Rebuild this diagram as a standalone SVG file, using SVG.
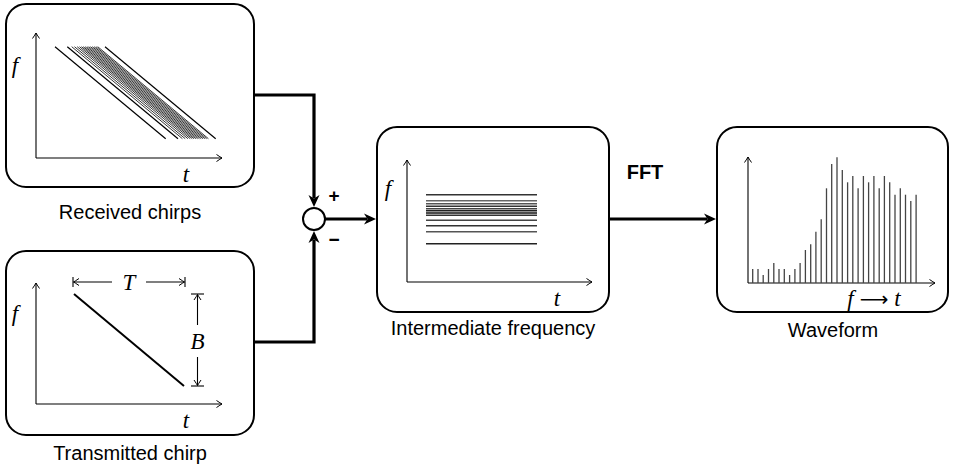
<svg xmlns="http://www.w3.org/2000/svg" width="963" height="466" viewBox="0 0 963 466">
<style>
.box{fill:#fff;stroke:#000;stroke-width:2}
.lbl{font-family:"Liberation Sans",Arial,sans-serif;font-size:20px;fill:#000;text-anchor:middle}
.math{font-family:"Liberation Serif","DejaVu Serif",serif;font-style:italic;font-size:23px;fill:#000;text-anchor:middle}
.axis{fill:none;stroke:#000;stroke-width:1.1;marker-end:url(#ax)}
.con{fill:none;stroke:#000;stroke-width:3.2;marker-end:url(#big)}
.chirp{stroke:#000;stroke-width:0.8}
.hl{stroke-width:1.6}
.bar{stroke:#444;stroke-width:1.3}
</style>
<defs>
<marker id="big" markerUnits="userSpaceOnUse" viewBox="-1 -7 15 14" markerWidth="15" markerHeight="14" refX="3" refY="0" orient="auto">
<path d="M0,-5.5 L12,0 L0,5.5 L3.5,0 z" fill="#000"/>
</marker>
<marker id="ax" markerUnits="userSpaceOnUse" viewBox="-8 -5 10 10" markerWidth="10" markerHeight="10" refX="0" refY="0" orient="auto">
<path d="M-5.5,-3.5 Q-1.5,-0.8 0,0 Q-1.5,0.8 -5.5,3.5" fill="none" stroke="#000" stroke-width="1"/>
</marker>
</defs>

<g id="received">
<rect class="box" x="6" y="4" width="248" height="183" rx="20"/>
<path class="axis" d="M36,158 V33"/>
<path class="axis" d="M36,158 H222"/>
<text class="math" x="15" y="73">f</text>
<text class="math" x="186" y="182">t</text>
<g class="chirp">
<line x1="55" y1="46.7" x2="165.7" y2="138.7" stroke-width="1.2"/>
<line x1="67.3" y1="46.7" x2="178" y2="138.7" stroke-width="1.2"/>
<line x1="71.7" y1="46.7" x2="182.4" y2="138.7"/>
<line x1="74.5" y1="46.7" x2="185.2" y2="138.7"/>
<line x1="77.2" y1="46.7" x2="187.9" y2="138.7"/>
<line x1="79.5" y1="46.7" x2="190.2" y2="138.7"/>
<line x1="81.5" y1="46.7" x2="192.2" y2="138.7"/>
<line x1="83.3" y1="46.7" x2="194" y2="138.7"/>
<line x1="85.1" y1="46.7" x2="195.8" y2="138.7"/>
<line x1="86.9" y1="46.7" x2="197.6" y2="138.7"/>
<line x1="88.7" y1="46.7" x2="199.4" y2="138.7"/>
<line x1="90.5" y1="46.7" x2="201.2" y2="138.7"/>
<line x1="92.3" y1="46.7" x2="203" y2="138.7"/>
<line x1="94.1" y1="46.7" x2="204.8" y2="138.7"/>
<line x1="95.9" y1="46.7" x2="206.6" y2="138.7"/>
<line x1="97.7" y1="46.7" x2="208.4" y2="138.7"/>
<line x1="105" y1="46.7" x2="215.7" y2="138.7" stroke-width="1.2"/>
</g>
<text class="lbl" x="130" y="219">Received chirps</text>
</g>

<g id="transmitted">
<rect class="box" x="6" y="251" width="248" height="184" rx="20"/>
<path class="axis" d="M36,404 V283"/>
<path class="axis" d="M36,404 H222"/>
<text class="math" x="15" y="321">f</text>
<text class="math" x="186" y="428">t</text>
<line x1="74" y1="294" x2="184" y2="386" stroke="#000" stroke-width="2"/>
<g stroke="#000" stroke-width="1.1" fill="none">
<line x1="73" y1="277" x2="73" y2="287"/>
<line x1="185" y1="277" x2="185" y2="287"/>
<path class="axis" d="M112,282 H73.5"/>
<path class="axis" d="M146,282 H184.5"/>
<line x1="191" y1="294" x2="204" y2="294"/>
<line x1="191" y1="386" x2="204" y2="386"/>
<path class="axis" d="M197.5,325 V294.5"/>
<path class="axis" d="M197.5,357 V385.5"/>
</g>
<text class="math" x="129" y="290">T</text>
<text class="math" x="197.5" y="349">B</text>
<text class="lbl" x="130" y="460">Transmitted chirp</text>
</g>

<g id="sum">
<circle cx="314" cy="219" r="11" fill="#fff" stroke="#000" stroke-width="2"/>
<text x="334" y="202" font-family="Liberation Sans,Arial,sans-serif" font-weight="bold" font-size="19" text-anchor="middle">+</text>
<text x="334" y="246" font-family="Liberation Sans,Arial,sans-serif" font-weight="bold" font-size="19" text-anchor="middle">−</text>
</g>

<g id="intermediate">
<rect class="box" x="377" y="127" width="232" height="185" rx="20"/>
<path class="axis" d="M407,282 V160"/>
<path class="axis" d="M407,282 H592"/>
<text class="math" x="388" y="196">f</text>
<text class="math" x="557" y="306">t</text>
<g class="hl">
<line x1="426" y1="194.7" x2="537" y2="194.7" stroke="#333"/>
<line x1="426" y1="200.7" x2="537" y2="200.7" stroke="#666"/>
<line x1="426" y1="203.7" x2="537" y2="203.7" stroke="#555"/>
<line x1="426" y1="206.3" x2="537" y2="206.3" stroke="#333"/>
<line x1="426" y1="208.7" x2="537" y2="208.7" stroke="#444"/>
<line x1="426" y1="210.7" x2="537" y2="210.7" stroke="#222"/>
<line x1="426" y1="213" x2="537" y2="213" stroke="#111"/>
<line x1="426" y1="215.3" x2="537" y2="215.3" stroke="#333"/>
<line x1="426" y1="220.3" x2="537" y2="220.3" stroke="#444"/>
<line x1="426" y1="225.7" x2="537" y2="225.7" stroke="#333"/>
<line x1="426" y1="231.7" x2="537" y2="231.7" stroke="#555"/>
<line x1="426" y1="243.7" x2="537" y2="243.7" stroke="#222"/>
</g>
<text class="lbl" x="493" y="335">Intermediate frequency</text>
</g>

<g id="waveform">
<rect class="box" x="717" y="127" width="231" height="185" rx="20"/>
<path class="axis" d="M748,283 V157"/>
<path class="axis" d="M748,283 H935"/>
<g class="bar">
<line x1="752.7" y1="283" x2="752.7" y2="269"/>
<line x1="758" y1="283" x2="758" y2="269"/>
<line x1="763.2" y1="283" x2="763.2" y2="275"/>
<line x1="768.5" y1="283" x2="768.5" y2="269"/>
<line x1="773.8" y1="283" x2="773.8" y2="263"/>
<line x1="779" y1="283" x2="779" y2="269"/>
<line x1="784.3" y1="283" x2="784.3" y2="269"/>
<line x1="789.6" y1="283" x2="789.6" y2="275"/>
<line x1="794.9" y1="283" x2="794.9" y2="269"/>
<line x1="800.1" y1="283" x2="800.1" y2="263"/>
<line x1="805.4" y1="283" x2="805.4" y2="250"/>
<line x1="810.7" y1="283" x2="810.7" y2="244.3"/>
<line x1="815.9" y1="283" x2="815.9" y2="231.7"/>
<line x1="821.2" y1="283" x2="821.2" y2="219.3"/>
<line x1="826.5" y1="283" x2="826.5" y2="188.3"/>
<line x1="831.7" y1="283" x2="831.7" y2="164"/>
<line x1="837" y1="283" x2="837" y2="157.3"/>
<line x1="842.3" y1="283" x2="842.3" y2="170"/>
<line x1="847.6" y1="283" x2="847.6" y2="182.3"/>
<line x1="852.8" y1="283" x2="852.8" y2="176"/>
<line x1="858.1" y1="283" x2="858.1" y2="188.3"/>
<line x1="863.4" y1="283" x2="863.4" y2="176"/>
<line x1="868.6" y1="283" x2="868.6" y2="182.3"/>
<line x1="873.9" y1="283" x2="873.9" y2="176"/>
<line x1="879.2" y1="283" x2="879.2" y2="188.3"/>
<line x1="884.4" y1="283" x2="884.4" y2="176"/>
<line x1="889.7" y1="283" x2="889.7" y2="182.3"/>
<line x1="895" y1="283" x2="895" y2="194.7"/>
<line x1="900.3" y1="283" x2="900.3" y2="188.3"/>
<line x1="905.5" y1="283" x2="905.5" y2="194.7"/>
<line x1="910.8" y1="283" x2="910.8" y2="201"/>
<line x1="916.1" y1="283" x2="916.1" y2="194.7"/>
</g>
<text x="874" y="306" font-family="Liberation Serif,DejaVu Serif,serif" font-size="23" text-anchor="middle"><tspan font-style="italic">f</tspan><tspan dx="6" font-family="DejaVu Sans,sans-serif" font-size="20">⟶</tspan><tspan dx="6" font-style="italic">t</tspan></text>
<text class="lbl" x="833" y="337">Waveform</text>
</g>

<g id="connectors">
<path class="con" d="M254,95 H314 V198"/>
<path class="con" d="M254,342 H314 V240"/>
<path class="con" d="M325,219 H367"/>
<path class="con" d="M609,219 H707"/>
<text x="645" y="179" font-family="Liberation Sans,Arial,sans-serif" font-weight="bold" font-size="20" text-anchor="middle">FFT</text>
</g>
</svg>
